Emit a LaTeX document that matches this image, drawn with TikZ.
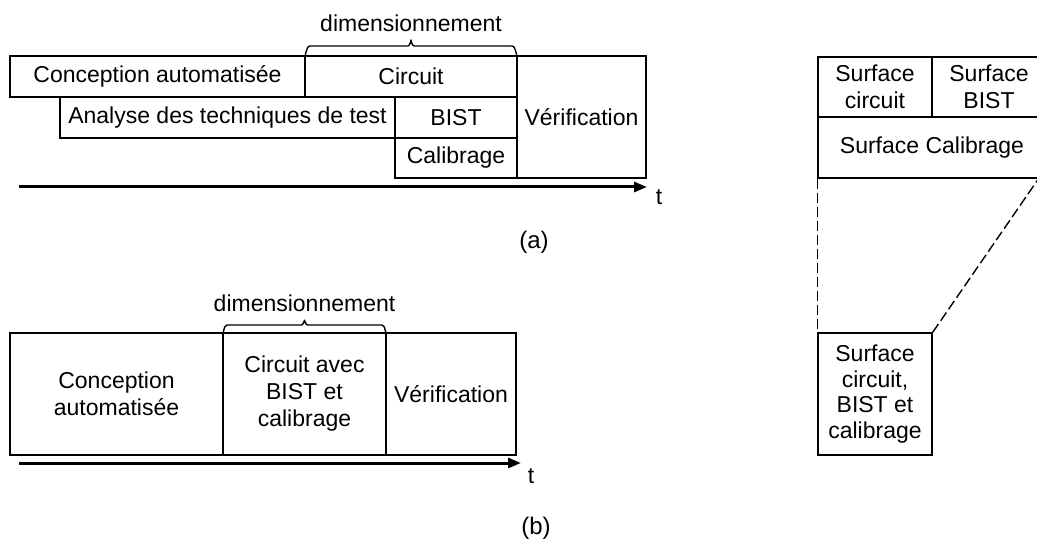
\documentclass[tikz,border=0pt]{standalone}
\usepackage{fontspec}
\setmainfont{Liberation Sans}
\usetikzlibrary{arrows.meta}
\newcommand\bx[6]{\node[box, minimum width={(#4)-(#2)}, minimum height={(#5)-(#3)}] (#1) at ({((#2)+(#4))/2},{((#3)+(#5))/2}) {#6};}
\begin{document}
\begin{tikzpicture}[x=1pt,y=-1pt,
  box/.style={draw, line width=1.4pt, inner sep=0pt, align=center, font=\fontsize{23}{27}\selectfont},
  lbl/.style={font=\fontsize{23}{27}\selectfont, inner sep=0pt},
  sublbl/.style={font=\fontsize{24}{28}\selectfont, inner sep=0pt},
  timeline/.style={line width=3pt, -{Triangle[length=13pt,width=10pt]}},
  bracestyle/.style={line width=1.4pt},
  dashedline/.style={line width=1.4pt, dash pattern=on 10pt off 4pt}]
\clip (0,0) rectangle (1037,540);
% ---------- (a)
\bx{conc}{10}{56}{305}{97}{Conception automatisée}
\bx{circ}{305}{56}{517}{97}{Circuit}
\bx{verif}{517}{56}{646}{178}{Vérification}
\bx{anal}{60}{97}{395}{138}{Analyse des techniques de test}
\bx{bist}{395}{97}{517}{138}{BIST}
\bx{calib}{395}{138}{517}{178}{Calibrage}
\draw[bracestyle] (305,56) to[out=-90,in=180] (310,46) -- (408,46) to[out=0,in=90] (411,41) to[out=90,in=180] (414,46) -- (512,46) to[out=0,in=-90] (517,56);
\node[lbl] (dima) at (411,23) {dimensionnement};
\coordinate (ta0) at (19,187);
\coordinate (ta1) at (647,187);
\draw[timeline] (ta0) -- (ta1);
\node[lbl] (ta) at (659,197) {t};
\node[sublbl] (la) at (534,242) {(a)};
% ---------- (b)
\bx{concb}{10}{333}{223}{455}{Conception\\automatisée}
\bx{circb}{223}{333}{386}{455}{Circuit avec\\BIST et\\calibrage}
\bx{verifb}{386}{333}{516}{455}{Vérification}
\draw[bracestyle] (223,333) to[out=-90,in=180] (227,325) -- (301.5,325) to[out=0,in=90] (304.5,321) to[out=90,in=180] (307.5,325) -- (382,325) to[out=0,in=-90] (386,333);
\node[lbl] (dimb) at (304.5,303) {dimensionnement};
\coordinate (tb0) at (19,463);
\coordinate (tb1) at (521,463);
\draw[timeline] (tb0) -- (tb1);
\node[lbl] (tb) at (531,476) {t};
\node[sublbl] (lb) at (536,528) {(b)};
% ---------- right panel
\bx{sc}{818}{57}{932}{117}{Surface\\circuit}
\bx{sb}{932}{57}{1046}{117}{Surface\\BIST}
\bx{scal}{818}{117}{1046}{178}{Surface Calibrage}
\node[box, font=\fontsize{23}{25.5}\selectfont, minimum width=114, minimum height=122] (sall) at (875,394) {Surface\\circuit,\\BIST et\\calibrage};
\coordinate (dtop) at (1039,178);
\draw[dashedline] (scal.south west) -- (sall.north west);
\draw[dashedline] (sall.north east) -- (dtop);
\end{tikzpicture}
\end{document}
